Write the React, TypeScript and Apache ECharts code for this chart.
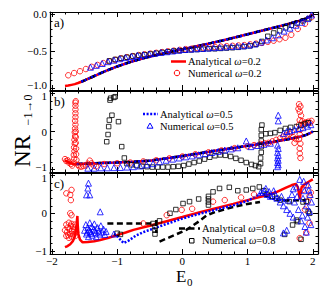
import React, { useEffect, useRef } from "react";
import * as echarts from "echarts";

const FONT = '"Liberation Serif", "Times New Roman", serif';
const RED = "#ff0000";
const BLUE = "#0000ff";
const BLACK = "#000000";

const E_RANGE = [-2.03, 2.08];
const A_RANGE = [-1.03, 0.03];
const B_RANGE = [-1.07, 1.07];
const C_RANGE = [-1.08, 1.07];
const PANEL_LABELS = ["a)", "b)", "c)"];
const NAMES_RED = ["Analytical ω=0.2", "Numerical ω=0.2"];
const NAMES_BLUE = ["Analytical ω=0.5", "Numerical ω=0.5"];
const NAMES_BLACK = ["Analytical ω=0.8", "Numerical ω=0.8"];

// ---------- panel a ----------
const aAnalytic = [[-1.8,-0.975],[-1.75,-0.97],[-1.7,-0.96],[-1.65,-0.95],[-1.6,-0.935],[-1.55,-0.918],[-1.5,-0.9],[-1.4,-0.86],[-1.3,-0.82],[-1.2,-0.78],[-1.1,-0.745],[-1.0,-0.71],[-0.8,-0.65],[-0.6,-0.6],[-0.4,-0.555],[-0.2,-0.515],[0,-0.478],[0.2,-0.44],[0.4,-0.4],[0.6,-0.36],[0.8,-0.317],[1.0,-0.273],[1.2,-0.228],[1.4,-0.183],[1.6,-0.138],[1.7,-0.113],[1.8,-0.087],[1.9,-0.057],[1.95,-0.037],[2.0,-0.005]];
const aAnalyticOthers = [[-1.55,-0.918],[-1.5,-0.9],[-1.4,-0.86],[-1.3,-0.82],[-1.2,-0.78],[-1.1,-0.745],[-1.0,-0.71],[-0.8,-0.65],[-0.6,-0.6],[-0.4,-0.555],[-0.2,-0.515],[0,-0.478],[0.2,-0.44],[0.4,-0.4],[0.6,-0.36],[0.8,-0.317],[1.0,-0.273],[1.2,-0.228],[1.4,-0.183],[1.6,-0.138],[1.7,-0.113],[1.8,-0.087],[1.9,-0.057],[1.95,-0.037],[2.0,-0.005]];
const aNumRed = [[-1.75,-0.83],[-1.66,-0.8],[-1.57,-0.775],[-1.48,-0.745],[-1.39,-0.715],[-1.3,-0.69],[-1.21,-0.665],[-1.12,-0.64],[-1.03,-0.62],[-0.94,-0.6],[-0.85,-0.585],[-0.76,-0.57],[-0.67,-0.555],[-0.58,-0.545],[-0.49,-0.535],[-0.4,-0.525],[-0.31,-0.515],[-0.22,-0.505],[-0.13,-0.495],[-0.04,-0.485],[0.05,-0.475],[0.14,-0.47],[0.23,-0.46],[0.32,-0.455],[0.41,-0.45],[0.5,-0.445],[0.59,-0.44],[0.68,-0.435],[0.77,-0.43],[0.86,-0.425],[0.95,-0.42],[1.04,-0.41],[1.13,-0.4],[1.22,-0.39],[1.31,-0.375],[1.4,-0.36],[1.49,-0.34],[1.58,-0.32],[1.67,-0.28],[1.77,-0.2],[1.88,-0.13],[1.98,-0.04]];
const aNumBlue = [[-1.41,-0.72],[-1.32,-0.695],[-1.23,-0.67],[-1.14,-0.645],[-1.05,-0.625],[-0.96,-0.605],[-0.87,-0.59],[-0.78,-0.575],[-0.69,-0.56],[-0.6,-0.55],[-0.51,-0.54],[-0.42,-0.53],[-0.33,-0.52],[-0.24,-0.51],[-0.15,-0.5],[-0.06,-0.49],[0.03,-0.48],[0.12,-0.475],[0.21,-0.47],[0.3,-0.465],[0.39,-0.46],[0.48,-0.455],[0.57,-0.45],[0.66,-0.445],[0.75,-0.44],[0.84,-0.435],[0.93,-0.43],[1.02,-0.42],[1.11,-0.405],[1.2,-0.38],[1.29,-0.35],[1.38,-0.32],[1.47,-0.28],[1.56,-0.23],[1.65,-0.19],[1.74,-0.15],[1.83,-0.11],[1.92,-0.06],[1.98,-0.01]];
const aNumBlack = [[-1.12,-0.635],[-1.03,-0.615],[-0.94,-0.6],[-0.85,-0.585],[-0.76,-0.57],[-0.67,-0.56],[-0.58,-0.55],[-0.49,-0.54],[-0.4,-0.53],[-0.31,-0.52],[-0.22,-0.51],[-0.13,-0.5],[-0.04,-0.495],[0.05,-0.49],[0.14,-0.485],[0.23,-0.48],[0.32,-0.475],[0.41,-0.47],[0.5,-0.47],[0.59,-0.465],[0.68,-0.46],[0.77,-0.455],[0.86,-0.45],[0.95,-0.44],[1.04,-0.43],[1.13,-0.41],[1.22,-0.37],[1.31,-0.3],[1.4,-0.255],[1.49,-0.225],[1.58,-0.185],[1.67,-0.15],[1.76,-0.12],[1.85,-0.09],[1.94,-0.06]];

// ---------- panel b ----------
const bAnalyticRed = [[-1.8,-0.76],[-1.76,-0.8],[-1.72,-0.84],[-1.66,-0.86],[-1.5,-0.85],[-1.25,-0.835],[-1.0,-0.82],[-0.75,-0.8],[-0.5,-0.77],[-0.25,-0.71],[0,-0.645],[0.25,-0.58],[0.5,-0.51],[0.75,-0.445],[1.0,-0.38],[1.2,-0.325],[1.4,-0.27],[1.6,-0.21],[1.8,-0.14],[1.9,-0.09],[1.96,-0.04],[2.0,0.0]];
const bAnalytic = [[-1.62,-0.86],[-1.5,-0.85],[-1.25,-0.835],[-1.0,-0.82],[-0.75,-0.8],[-0.5,-0.77],[-0.25,-0.71],[0,-0.645],[0.25,-0.58],[0.5,-0.51],[0.75,-0.445],[1.0,-0.38],[1.2,-0.325],[1.4,-0.27],[1.6,-0.21],[1.8,-0.14],[1.9,-0.09],[1.96,-0.04],[2.0,0.0]];
const bNumRed = [[-1.665,-0.82],[-1.66,-0.72],[-1.665,-0.62],[-1.655,-0.52],[-1.66,-0.42],[-1.65,-0.32],[-1.655,-0.22],[-1.645,-0.12],[-1.65,-0.02],[-1.645,0.08],[-1.64,0.18],[-1.645,0.28],[-1.64,0.38],[-1.64,0.48],[-1.64,0.58],[-1.64,0.68],[-1.64,0.76],[-1.635,0.8],[-1.625,-0.75],[-1.63,-0.6],[-1.63,-0.45],[-1.635,-0.3],[-1.635,-0.15],[-1.635,0.0],[-1.8,-0.73],[-1.78,-0.78],[-1.76,-0.76],[-1.74,-0.82],[-1.71,-0.86],[-1.69,-0.9],[-1.6,-0.88],[-1.58,-0.92],[-1.55,-0.93],[-1.52,-0.91],[-1.48,-0.9],[-1.45,-0.85],[-1.42,-0.77],[-1.39,-0.84],[-1.36,-0.9],[-1.32,-0.92],[-1.2,-0.86],[-1.0,-0.84],[-0.8,-0.82],[-0.6,-0.79],[-0.4,-0.76],[-0.2,-0.71],[0.0,-0.66],[0.2,-0.6],[0.4,-0.55],[0.6,-0.5],[0.8,-0.44],[1.0,-0.39],[1.1,-0.36],[1.2,-0.33],[1.26,-0.31],[1.32,-0.3],[1.38,-0.26],[1.44,-0.22],[1.5,-0.18],[1.55,-0.13],[1.6,-0.1],[1.64,-0.06],[1.68,-0.02],[1.7,-0.15],[1.72,-0.3],[1.74,-0.2],[1.79,0.72],[1.81,0.66],[1.78,0.6],[1.8,0.52],[1.82,0.42],[1.8,0.3],[1.79,0.18],[1.81,0.05],[1.8,-0.08],[1.79,-0.2],[1.81,-0.32],[1.8,-0.45],[1.8,-0.58],[1.81,-0.7],[1.84,0.27],[1.87,0.22],[1.9,0.24],[1.93,0.26],[1.96,0.23],[1.98,0.28],[1.85,0.18]];
const bNumBlue = [[-1.45,-0.97],[-1.35,-0.97],[-1.25,-0.96],[-1.15,-0.96],[-1.05,-0.955],[-0.95,-0.95],[-0.85,-0.94],[-0.75,-0.93],[-0.65,-0.91],[-0.55,-0.88],[-0.45,-0.85],[-0.35,-0.8],[-0.25,-0.76],[-0.15,-0.73],[-0.05,-0.7],[0.05,-0.67],[0.15,-0.645],[0.25,-0.615],[0.35,-0.585],[0.45,-0.555],[0.55,-0.525],[0.65,-0.49],[0.75,-0.46],[0.85,-0.43],[0.98,-0.25],[1.05,-0.4],[1.15,-0.37],[1.25,-0.34],[1.35,-0.31],[1.46,-0.93],[1.47,-0.88],[1.46,-0.82],[1.47,-0.76],[1.46,-0.7],[1.47,-0.63],[1.46,-0.55],[1.47,-0.45],[1.46,-0.36],[1.47,0.28],[1.47,0.43],[1.55,-0.05],[1.6,0.0],[1.65,0.02],[1.72,0.05],[1.78,0.08],[1.85,0.1],[1.92,0.14],[1.97,0.18]];
const bNumBlack = [[-1.16,-0.27],[-1.14,-0.08],[-1.13,0.13],[-1.12,0.3],[-1.11,0.83],[-1.1,0.88],[-1.03,0.92],[-1.05,0.9],[-1.08,0.43],[-0.98,0.26],[-0.93,-0.4],[-0.89,-0.7],[-0.85,-0.85],[-0.78,-0.88],[-0.7,-0.9],[-0.62,-0.92],[-0.54,-0.93],[-0.46,-0.94],[-0.38,-0.94],[-0.3,-0.94],[-0.22,-0.94],[-0.14,-0.93],[-0.06,-0.92],[0.02,-0.9],[0.1,-0.86],[0.18,-0.82],[0.26,-0.78],[0.34,-0.73],[0.42,-0.68],[0.5,-0.64],[0.58,-0.62],[0.66,-0.63],[0.74,-0.66],[0.82,-0.71],[0.9,-0.76],[0.98,-0.82],[1.06,-0.87],[1.12,-0.9],[1.17,-0.93],[1.2,-0.85],[1.2,-0.7],[1.21,-0.55],[1.21,-0.4],[1.21,-0.25],[1.21,-0.1],[1.21,0.05],[1.22,0.17],[1.28,-0.06],[1.35,-0.05],[1.42,-0.03],[1.5,0.03],[1.58,0.08],[1.66,0.11],[1.75,0.13],[1.82,0.17],[1.88,0.2],[1.93,0.23]];

// ---------- panel c ----------
const cAnalyticRed = [[-1.8,-0.9],[-1.76,-0.87],[-1.72,-0.82],[-1.68,-0.74],[-1.65,-0.62],[-1.63,-0.45],[-1.62,-0.25],[-1.61,-0.07],[-1.605,-0.3],[-1.595,-0.55],[-1.57,-0.7],[-1.53,-0.77],[-1.45,-0.76],[-1.35,-0.74],[-1.26,-0.71],[-1.13,-0.65],[-1.0,-0.58],[-0.87,-0.51],[-0.75,-0.44],[-0.5,-0.33],[-0.24,-0.21],[0,-0.1],[0.27,0.03],[0.5,0.13],[0.78,0.25],[1.0,0.35],[1.29,0.48],[1.45,0.57],[1.59,0.68],[1.68,0.75],[1.74,0.78],[1.77,0.7],[1.79,0.5],[1.8,0.38],[1.81,0.5],[1.83,0.7],[1.87,0.76],[1.93,0.83],[2.0,0.9]];
const cAnalyticBlue = [[-1.05,-0.55],[-1.0,-0.6],[-0.95,-0.7],[-0.9,-0.79],[-0.82,-0.72],[-0.72,-0.6],[-0.6,-0.5],[-0.45,-0.41],[-0.24,-0.28],[0,-0.14],[0.27,-0.01],[0.5,0.09],[0.78,0.21],[1.0,0.33],[1.1,0.42],[1.19,0.52],[1.25,0.5],[1.32,0.42],[1.4,0.38],[1.5,0.36],[1.6,0.33]];
const cAnalyticBlack = [[-1.15,-0.27],[-0.9,-0.27],[-0.7,-0.27],[-0.5,-0.27],[-0.43,-0.26],[-0.42,null],[-0.4,-0.18],[-0.4,-0.52],[-0.38,null],[-0.35,-0.75],[-0.15,-0.6],[0.06,-0.44],[0.25,-0.22],[0.37,-0.06],[0.5,0.03],[0.78,0.17],[1.0,0.25],[1.19,0.3],[1.3,null],[1.55,0.34],[1.65,0.34],[1.8,0.35],[1.9,0.35]];
const cNumRed = [[-1.8,-0.45],[-1.78,-0.3],[-1.77,-0.5],[-1.76,-0.38],[-1.75,-0.58],[-1.74,-0.25],[-1.73,-0.42],[-1.72,-0.55],[-1.71,-0.33],[-1.7,-0.62],[-1.69,-0.47],[-1.68,-0.36],[-1.67,-0.56],[-1.66,-0.43],[-1.65,-0.3],[-1.64,-0.6],[-1.63,-0.5],[-1.78,-0.6],[-1.74,-0.65],[-1.7,-0.28],[-1.72,0.0],[-1.7,-0.05],[-1.78,0.53],[-1.72,0.49],[-1.7,0.62],[-1.71,0.35],[-0.6,-0.27],[-0.24,-0.05],[-0.01,0.09],[0.15,0.12],[0.47,0.31],[0.65,0.35],[0.9,0.42],[1.1,0.5],[1.8,-0.66],[1.9,-0.51],[1.95,-0.26],[1.88,0.1],[1.92,0.3],[1.95,0.45],[1.85,0.62],[1.9,0.75],[1.97,0.55]];
const cNumBlue = [[-1.5,-0.45],[-1.48,-0.3],[-1.47,-0.55],[-1.45,-0.38],[-1.44,-0.62],[-1.42,-0.25],[-1.41,-0.48],[-1.39,-0.35],[-1.38,-0.58],[-1.36,-0.42],[-1.35,-0.28],[-1.33,-0.52],[-1.32,-0.62],[-1.3,-0.38],[-1.28,-0.47],[-1.27,-0.55],[-1.25,-0.33],[-1.23,-0.5],[-1.21,-0.42],[-1.19,-0.56],[-1.17,-0.48],[-1.46,-0.5],[-1.43,-0.44],[-1.4,-0.53],[-1.34,-0.45],[-1.44,0.8],[-1.45,0.67],[-1.47,0.49],[-1.42,0.49],[-1.26,0.04],[-1.05,-0.55],[1.2,0.55],[1.25,0.6],[1.3,0.5],[1.35,0.45],[1.4,0.6],[1.45,0.4],[1.5,0.3],[1.55,0.2],[1.6,0.1],[1.62,0.35],[1.65,0.0],[1.68,0.5],[1.7,-0.1],[1.72,0.3],[1.75,0.7],[1.78,0.1],[1.8,0.9],[1.82,-0.2],[1.85,0.4],[1.87,0.6],[1.88,-0.35],[1.9,0.2],[1.92,-0.1],[1.93,0.75],[1.95,0.05],[1.96,0.5],[1.97,-0.3],[1.98,0.3],[1.6,-0.45],[1.55,-0.52],[1.52,0.45],[1.42,0.52],[1.33,0.58],[1.28,0.66],[1.9,-0.5],[1.84,-0.05],[1.76,0.45],[1.94,0.62],[1.86,0.85],[1.7,0.65]];
const cNumBlack = [[-1.0,-0.53],[-0.95,-0.56],[-0.45,-0.27],[-0.35,-0.2],[-0.19,0.0],[-0.1,0.1],[0.01,0.26],[0.11,0.31],[0.25,0.38],[0.4,0.22],[0.4,0.3],[0.4,0.38],[0.4,0.45],[0.47,0.57],[0.57,0.66],[0.72,0.69],[0.85,0.6],[0.98,0.62],[1.08,0.66],[1.18,0.7],[1.25,0.6],[1.3,0.5],[1.38,0.45],[1.45,0.4],[1.5,0.35],[1.57,-0.56],[1.64,0.31],[1.69,-0.31],[1.75,-0.18],[1.77,-0.22],[1.82,-0.69],[1.85,0.3],[1.9,0.32],[1.95,0.0],[1.93,0.05],[-0.42,-0.35],[-0.42,-0.45],[-0.42,-0.55]];

const GRIDS = [
  { left: 50, width: 268, top: 12, height: 78 },
  { left: 50, width: 268, top: 91, height: 81 },
  { left: 50, width: 268, top: 173, height: 81 },
];

const DOTTED = [2, 1.6];
const DASHED = [6, 3.5];

function near(v: number, step: number) {
  return Math.abs(v / step - Math.round(v / step)) < 1e-6;
}
function minus(s: string) {
  return s.replace("-", "\u2212");
}

function lineS(name: string, data: any[], color: string, type: any, gi: number, z: number) {
  return {
    type: "line", name, data, xAxisIndex: 2 * gi, yAxisIndex: 2 * gi,
    symbol: "none", showSymbol: false, connectNulls: false, clip: true, silent: true, z,
    lineStyle: { color, width: 2.5, type }, itemStyle: { color },
  };
}
function scatS(name: string, data: any[], color: string, symbol: string, size: number, gi: number, z: number) {
  return {
    type: "scatter", name, data, xAxisIndex: 2 * gi, yAxisIndex: 2 * gi,
    symbol, symbolSize: size, clip: true, silent: true, z,
    itemStyle: { color: "rgba(0,0,0,0)", borderColor: color, borderWidth: 1 },
  };
}

const LEG_FONT = 10.5;
function legText(name: string, x: number, y: number) {
  return {
    type: "text", x, y, z: 20,
    style: {
      text: name.replace("ω", "{i|ω}"), fontFamily: FONT, fontSize: LEG_FONT, fill: BLACK,
      verticalAlign: "middle", align: "left",
      rich: { i: { fontFamily: FONT, fontSize: LEG_FONT, fontStyle: "italic", fill: BLACK } },
    },
  };
}

export default function App() {
  const ref = useRef<HTMLDivElement>(null);
  useEffect(() => {
    if (!ref.current) return;
    const chart = echarts.init(ref.current, null, { renderer: "svg" });
    const tick = { show: true, inside: true, length: 5, lineStyle: { color: BLACK, width: 1 } };
    const minor = { show: true, splitNumber: 5, length: 2.5, lineStyle: { color: BLACK, width: 1 } };
    const line = { show: true, onZero: false, lineStyle: { color: BLACK, width: 1.2 } };
    const xAxis: any[] = [];
    const yAxis: any[] = [];
    const yRanges = [A_RANGE, B_RANGE, C_RANGE];
    const labelRich = {
      up: { fontFamily: FONT, fontSize: 11, color: BLACK, padding: [0, 0, 5, 0] },
      dn: { fontFamily: FONT, fontSize: 11, color: BLACK, padding: [5, 0, 0, 0] },
    };
    for (let g = 0; g < 3; g++) {
      for (const pos of ["bottom", "top"]) {
        xAxis.push({
          type: "value", gridIndex: g, position: pos, min: E_RANGE[0], max: E_RANGE[1], splitNumber: 4,
          axisTick: tick, minorTick: minor, axisLine: line, splitLine: { show: false },
          axisLabel: {
            show: g === 2 && pos === "bottom", margin: 1, color: BLACK, fontFamily: FONT, fontSize: 11, lineHeight: 11,
            formatter: (v: number) => (near(v, 1) ? minus(String(Math.round(v))) : ""),
          },
        });
      }
      for (const pos of ["left", "right"]) {
        yAxis.push({
          type: "value", gridIndex: g, position: pos, min: yRanges[g][0], max: yRanges[g][1], splitNumber: 2,
          axisTick: tick, minorTick: minor, axisLine: line, splitLine: { show: false },
          axisLabel: {
            show: pos === "left", margin: 3, color: BLACK, fontFamily: FONT, fontSize: 11, rich: labelRich,
            formatter: (v: number) => {
              if (g === 0) {
                if (!near(v, 0.5)) return "";
                const s = minus((Math.round(v * 2) / 2).toFixed(1));
                return Math.round(v * 2) === -2 ? "{up|" + s + "}" : s;
              }
              if (!near(v, 1)) return "";
              const r = Math.round(v);
              const s = minus(String(r));
              if (r === 1) return "{dn|" + s + "}";
              if (r === -1 && g === 1) return "{up|" + s + "}";
              return s;
            },
          },
        });
      }
    }
    const series: any[] = [];
    // panel a
    series.push(lineS(NAMES_RED[0], aAnalytic, RED, "solid", 0, 2));
    series.push(lineS(NAMES_BLACK[0], aAnalyticOthers, BLACK, DASHED, 0, 3));
    series.push(lineS(NAMES_BLUE[0], aAnalyticOthers, BLUE, DOTTED, 0, 4));
    series.push(scatS(NAMES_RED[1], aNumRed, RED, "circle", 5.5, 0, 5));
    series.push(scatS(NAMES_BLACK[1], aNumBlack, BLACK, "rect", 4.5, 0, 6));
    series.push(scatS(NAMES_BLUE[1], aNumBlue, BLUE, "triangle", 6, 0, 7));
    // panel b
    series.push(lineS(NAMES_RED[0], bAnalyticRed, RED, "solid", 1, 2));
    series.push(lineS(NAMES_BLACK[0], bAnalytic, BLACK, DASHED, 1, 3));
    series.push(lineS(NAMES_BLUE[0], bAnalytic, BLUE, DOTTED, 1, 4));
    series.push(scatS(NAMES_RED[1], bNumRed, RED, "circle", 5.5, 1, 5));
    series.push(scatS(NAMES_BLACK[1], bNumBlack, BLACK, "rect", 4.5, 1, 6));
    series.push(scatS(NAMES_BLUE[1], bNumBlue, BLUE, "triangle", 6, 1, 7));
    // panel c
    series.push(lineS(NAMES_RED[0], cAnalyticRed, RED, "solid", 2, 2));
    series.push(lineS(NAMES_BLACK[0], cAnalyticBlack, BLACK, DASHED, 2, 3));
    series.push(lineS(NAMES_BLUE[0], cAnalyticBlue, BLUE, DOTTED, 2, 4));
    series.push(scatS(NAMES_RED[1], cNumRed, RED, "circle", 5.5, 2, 5));
    series.push(scatS(NAMES_BLACK[1], cNumBlack, BLACK, "rect", 4.5, 2, 6));
    series.push(scatS(NAMES_BLUE[1], cNumBlue, BLUE, "triangle", 6, 2, 7));

    const graphic: any[] = PANEL_LABELS.map((t, i) => ({
      type: "text", left: 54, top: GRIDS[i].top + 4,
      style: { text: t, fontFamily: FONT, fontSize: 13, fill: BLACK },
    }));
    // legend a (red)
    graphic.push({ type: "line", z: 20, shape: { x1: 171, y1: 61.5, x2: 186, y2: 61.5 }, style: { stroke: RED, lineWidth: 2.5 } });
    graphic.push(legText(NAMES_RED[0], 188, 61.5));
    graphic.push({ type: "circle", z: 20, shape: { cx: 177, cy: 73, r: 2.75 }, style: { stroke: RED, fill: "none", lineWidth: 1 } });
    graphic.push(legText(NAMES_RED[1], 188, 73));
    // legend b (blue)
    graphic.push({ type: "line", z: 20, shape: { x1: 143, y1: 114, x2: 158, y2: 114 }, style: { stroke: BLUE, lineWidth: 2.5, lineDash: DOTTED } });
    graphic.push(legText(NAMES_BLUE[0], 160, 114));
    graphic.push({ type: "polygon", z: 20, shape: { points: [[150, 123], [153, 128.2], [147, 128.2]] }, style: { stroke: BLUE, fill: "none", lineWidth: 1 } });
    graphic.push(legText(NAMES_BLUE[1], 160, 126));
    // legend c (black)
    graphic.push({ type: "line", z: 20, shape: { x1: 179, y1: 228.5, x2: 200, y2: 228.5 }, style: { stroke: BLACK, lineWidth: 2.5, lineDash: DASHED } });
    graphic.push(legText(NAMES_BLACK[0], 202, 228.5));
    graphic.push({ type: "rect", z: 20, shape: { x: 189.5, y: 238.5, width: 4.5, height: 4.5 }, style: { stroke: BLACK, fill: "none", lineWidth: 1 } });
    graphic.push(legText(NAMES_BLACK[1], 202, 240.7));
    // axis titles
    graphic.push({ type: "text", x: 176, y: 268, style: { text: "E", fontFamily: FONT, fontSize: 17, fill: BLACK } });
    graphic.push({ type: "text", x: 187, y: 276, style: { text: "0", fontFamily: FONT, fontSize: 11, fill: BLACK } });
    graphic.push({
      type: "text", x: 22, y: 151, rotation: Math.PI / 2,
      style: { text: "NR", fontFamily: FONT, fontSize: 23, fill: BLACK, align: "center", verticalAlign: "middle" },
    });
    graphic.push({
      type: "text", x: 28, y: 110, rotation: Math.PI / 2,
      style: { text: "\u22121\u21920", fontFamily: FONT, fontSize: 12, fill: BLACK, align: "center", verticalAlign: "middle" },
    });

    chart.setOption({
      animation: false,
      backgroundColor: "#ffffff",
      grid: GRIDS.map((g) => ({ ...g, containLabel: false })),
      xAxis, yAxis, series,
      graphic,
    });
    return () => chart.dispose();
  }, []);
  return <div ref={ref} style={{ position: "fixed", left: 0, top: 0, width: 332, height: 287 }} />;
}
